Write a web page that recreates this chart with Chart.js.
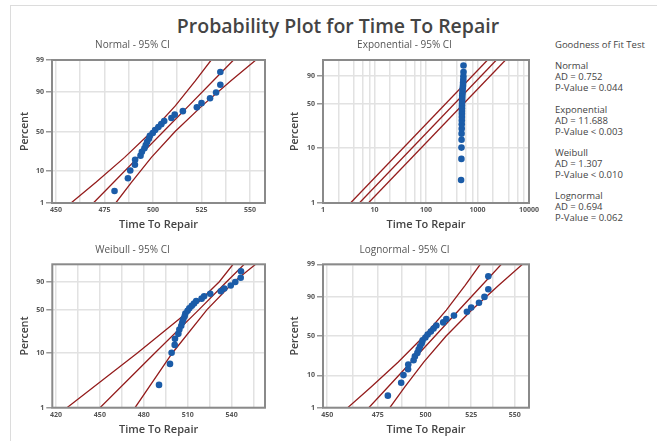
<!DOCTYPE html>
<html>
<head>
<meta charset="utf-8">
<script src="https://cdn.jsdelivr.net/npm/chart.js@4.4.1/dist/chart.umd.min.js"></script>
<style>
  body { margin: 0; background: #fff; width: 657px; height: 441px; overflow: hidden; position: relative; font-family: "Open Sans", sans-serif; }
  .frame { position: absolute; left: 10px; top: 5px; right: 0; bottom: 0; border-top: 1px solid #dcdcdc; border-left: 1px solid #dcdcdc; }
  canvas { position: absolute; }
  #title { position: absolute; left: 0; width: 676px; top: 12px; text-align: center; font-size: 19.5px; font-weight: 600; color: #444; }
  .gof { position: absolute; left: 555px; font-size: 9.5px; line-height: 11px; color: #444; white-space: nowrap; }
</style>
</head>
<body>
<div class="frame"></div>
<div id="title">Probability Plot for Time To Repair</div>

<div class="gof" style="top:39px">Goodness of Fit Test</div>
<div class="gof" style="top:60px">Normal<br>AD = 0.752<br>P-Value = 0.044</div>
<div class="gof" style="top:104px">Exponential<br>AD = 11.688<br>P-Value &lt; 0.003</div>
<div class="gof" style="top:147px">Weibull<br>AD = 1.307<br>P-Value &lt; 0.010</div>
<div class="gof" style="top:190px">Lognormal<br>AD = 0.694<br>P-Value = 0.062</div>

<canvas id="normal-c" width="285" height="197" style="left:0px;top:38px"></canvas>
<canvas id="exp-c" width="265" height="197" style="left:280px;top:38px"></canvas>
<canvas id="weib-c" width="285" height="197" style="left:0px;top:243px"></canvas>
<canvas id="logn-c" width="265" height="197" style="left:280px;top:243px"></canvas>

<script>
// time to repair, sorted
const timeToRepair = [480.2, 487.1, 488.3, 490.7, 490.8, 493.6, 494.3, 495.6, 496.3, 497.0,
  497.9, 498.4, 499.9, 501.1, 502.8, 504.3, 505.8, 509.5, 511.2, 515.4,
  522.6, 525.0, 529.4, 532.5, 534.7, 534.7];
// same points as they sit on the weibull panel's axis
const weibullRead = [490.4, 497.9, 499.0, 501.1, 501.3, 503.6, 504.3, 505.6, 506.3, 507.0,
  507.9, 508.4, 509.9, 511.1, 512.8, 514.3, 515.8, 519.5, 521.2, 525.4,
  532.6, 535.0, 539.4, 542.5, 546.2, 546.4];
// plotting positions (percent)
const plotPercent = [2.65, 6.44, 10.23, 14.02, 17.80, 21.59, 25.38, 29.17, 32.95, 36.74,
  40.53, 44.32, 48.11, 51.89, 55.68, 59.47, 63.26, 67.05, 70.83, 74.62,
  78.41, 82.20, 85.98, 89.77, 93.56, 97.35];

// fitted line + 95% CI (x values at these percents)
const linePercent = [1, 5, 20, 50, 80, 95, 99];
const normalFit = [469.3, 479.9, 492.3, 505.4, 518.5, 530.9, 541.5];
const normalUpper = [457.8, 470.8, 485.4, 499.4, 511.6, 521.8, 530.0];
const normalLower = [480.8, 489.0, 499.2, 511.4, 525.4, 540.0, 553.0];
const lognFit = [470.5, 480.4, 492.3, 505.1, 518.2, 531.1, 542.2];
const lognUpper = [460.0, 471.8, 485.6, 499.2, 511.2, 521.6, 530.1];
const lognLower = [481.2, 489.1, 499.1, 511.1, 525.3, 540.7, 554.6];

const expLinePercent = [1, 99];
const expFit = [5.08, 2327];
const expUpper = [3.42, 1566];
const expLower = [7.6, 3500];

const weibLinePercent = [1, 10, 50, 90, 99.25];
const weibFit = [450.1, 487.4, 517.7, 536.6, 548.6];
const weibUpper = [427.5, 475.4, 512.2, 531.6, 541.0];
const weibLower = [474.0, 499.4, 523.2, 541.6, 556.4];

// axis ticks
const normalXTicks = [450, 462.5, 475, 487.5, 500, 512.5, 525, 537.5, 550];
const normalXLabels = [450, 475, 500, 525, 550];
const expXTicks = [1, 2, 4, 6, 8, 10, 20, 40, 60, 80, 100, 200, 400, 600, 800, 1000, 2000, 4000, 6000, 8000, 10000];
const expXLabels = [1, 10, 100, 1000, 10000];
const weibXTicks = [420, 435, 450, 465, 480, 495, 510, 525, 540, 555];
const weibXLabels = [420, 450, 480, 510, 540];
const probTicks = [1, 10, 50, 90, 99];
const probTicksShort = [1, 10, 50, 90];

const FONT = '"Open Sans", sans-serif';
const BLUE = '#1b5ca8';
const RED = '#941c1c';
const GRID = '#e2e2e2';

function normInv(p) {
  const a = [-3.969683028665376e+01, 2.209460984245205e+02, -2.759285104469687e+02, 1.383577518672690e+02, -3.066479806614716e+01, 2.506628277459239e+00];
  const b = [-5.447609879822406e+01, 1.615858368580409e+02, -1.556989798598866e+02, 6.680131188771972e+01, -1.328068155288572e+01];
  const c = [-7.784894002430293e-03, -3.223964580411365e-01, -2.400758277161838e+00, -2.549732539343734e+00, 4.374664141464968e+00, 2.938163982698783e+00];
  const d = [7.784695709041462e-03, 3.224671290700398e-01, 2.445134137142996e+00, 3.754408661907416e+00];
  const pl = 0.02425;
  let q, r;
  if (p < pl) {
    q = Math.sqrt(-2 * Math.log(p));
    return (((((c[0]*q+c[1])*q+c[2])*q+c[3])*q+c[4])*q+c[5]) / ((((d[0]*q+d[1])*q+d[2])*q+d[3])*q+1);
  }
  if (p > 1 - pl) {
    q = Math.sqrt(-2 * Math.log(1 - p));
    return -(((((c[0]*q+c[1])*q+c[2])*q+c[3])*q+c[4])*q+c[5]) / ((((d[0]*q+d[1])*q+d[2])*q+d[3])*q+1);
  }
  q = p - 0.5; r = q * q;
  return (((((a[0]*r+a[1])*r+a[2])*r+a[3])*r+a[4])*r+a[5])*q / (((((b[0]*r+b[1])*r+b[2])*r+b[3])*r+b[4])*r+1);
}
// probability paper transforms
const normScale = pct => normInv(pct / 100);
const weibScale = pct => Math.log(-Math.log(1 - pct / 100));

const frame = {
  id: 'frame',
  afterDatasetsDraw(chart) {
    const a = chart.chartArea, ctx = chart.ctx;
    ctx.save();
    ctx.strokeStyle = '#8a8a8a';
    ctx.lineWidth = 2;
    ctx.strokeRect(a.left, a.top, a.right - a.left, a.bottom - a.top);
    ctx.restore();
  }
};

function makePanel(id, cfg) {
  const pts = cfg.xs.map((x, i) => ({ x: x, y: cfg.ty(plotPercent[i]) }));
  const line = xs => xs.map((x, i) => ({ x: x, y: cfg.ty(cfg.linePct[i]) }));
  const lineStyle = { showLine: true, borderColor: RED, borderWidth: 1.3, pointRadius: 0, fill: false };
  new Chart(document.getElementById(id), {
    type: 'scatter',
    data: {
      datasets: [
        { data: pts, backgroundColor: BLUE, borderColor: BLUE, pointRadius: 3.3, borderWidth: 0 },
        Object.assign({ data: line(cfg.fit) }, lineStyle),
        Object.assign({ data: line(cfg.upper) }, lineStyle),
        Object.assign({ data: line(cfg.lower) }, lineStyle),
      ],
    },
    options: {
      responsive: false,
      animation: false,
      devicePixelRatio: 1,
      events: [],
      layout: { padding: { left: 0, right: cfg.padRight, top: 0, bottom: 0 } },
      plugins: {
        legend: { display: false },
        tooltip: { enabled: false },
        title: {
          display: true,
          text: cfg.title,
          color: '#555',
          font: { family: FONT, size: 10, weight: 'normal', lineHeight: 1.2 },
          padding: { top: 1, bottom: cfg.titleGap },
        },
      },
      scales: {
        x: {
          type: cfg.xType,
          min: cfg.xMin,
          max: cfg.xMax,
          bounds: 'data',
          afterFit: function (scale) { scale.height = cfg.xH; },
          afterBuildTicks: function (scale) { scale.ticks = cfg.xTicks.map(v => ({ value: v })); },
          grid: { color: GRID, lineWidth: 1.5, drawTicks: false },
          border: { display: false },
          ticks: {
            autoSkip: false,
            maxRotation: 0,
            padding: 3,
            color: '#555',
            font: { family: FONT, size: 7, weight: 'bold' },
            callback: v => (cfg.xLabels.includes(v) ? String(v) : ''),
          },
          title: {
            display: true,
            text: 'Time To Repair',
            color: '#444',
            font: { family: FONT, size: 11, weight: '600', lineHeight: 1.2 },
            padding: { top: 0, bottom: 3.4 },
          },
        },
        y: {
          type: 'linear',
          min: cfg.ty(1),
          max: cfg.ty(cfg.yTop),
          bounds: 'data',
          afterFit: function (scale) { scale.width = cfg.yW; },
          afterBuildTicks: function (scale) { scale.ticks = cfg.yTicks.map(p => ({ value: cfg.ty(p) })); },
          grid: { color: GRID, lineWidth: 1.5, drawTicks: true, tickLength: 6, tickColor: '#999' },
          border: { display: false },
          ticks: {
            padding: 2,
            color: '#555',
            font: { family: FONT, size: 7, weight: 'bold' },
            callback: (v, i) => String(cfg.yTicks[i]),
          },
          title: {
            display: true,
            text: 'Percent',
            color: '#444',
            font: { family: FONT, size: 10.5, weight: '600', lineHeight: 1.2 },
            padding: { top: cfg.yTitlePad, bottom: 0 },
          },
        },
      },
    },
    plugins: [frame],
  });
}

makePanel('normal-c', {
  title: 'Normal - 95% CI', titleGap: 9, xs: timeToRepair, ty: normScale,
  linePct: linePercent, fit: normalFit, upper: normalUpper, lower: normalLower,
  xType: 'linear', xMin: 448, xMax: 557.7, xTicks: normalXTicks, xLabels: normalXLabels,
  yTicks: probTicks, yTop: 99, yW: 52, xH: 32, padRight: 20, yTitlePad: 18.7,
});
makePanel('exp-c', {
  title: 'Exponential - 95% CI', titleGap: 9, xs: timeToRepair, ty: weibScale,
  linePct: expLinePercent, fit: expFit, upper: expUpper, lower: expLower,
  xType: 'logarithmic', xMin: 1, xMax: 10000, xTicks: expXTicks, xLabels: expXLabels,
  yTicks: probTicksShort, yTop: 99, yW: 43, xH: 32, padRight: 16, yTitlePad: 8.7,
});
makePanel('weib-c', {
  title: 'Weibull - 95% CI', titleGap: 8.3, xs: weibullRead, ty: weibScale,
  linePct: weibLinePercent, fit: weibFit, upper: weibUpper, lower: weibLower,
  xType: 'linear', xMin: 417.5, xMax: 562.8, xTicks: weibXTicks, xLabels: weibXLabels,
  yTicks: probTicksShort, yTop: 99.25, yW: 52.3, xH: 32.3, padRight: 20, yTitlePad: 18.7,
});
makePanel('logn-c', {
  title: 'Lognormal - 95% CI', titleGap: 8.3, xs: timeToRepair, ty: normScale,
  linePct: linePercent, fit: lognFit, upper: lognUpper, lower: lognLower,
  xType: 'logarithmic', xMin: 448, xMax: 558.5, xTicks: normalXTicks, xLabels: normalXLabels,
  yTicks: probTicks, yTop: 99, yW: 43, xH: 32.3, padRight: 16, yTitlePad: 8.7,
});
</script>
</body>
</html>
